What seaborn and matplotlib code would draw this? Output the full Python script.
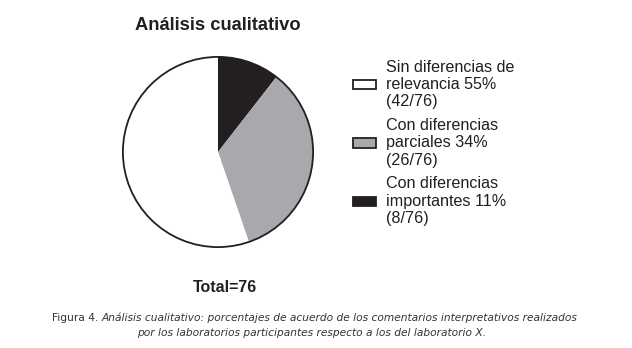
import matplotlib
matplotlib.use("Agg")
import matplotlib.pyplot as plt
from matplotlib.patches import Patch, Circle
import seaborn as sns

sns.set_theme(style="white")
plt.rcParams['font.family'] = ['Liberation Sans', 'DejaVu Sans']

# data
categories = ['Con diferencias\nimportantes 11%\n(8/76)',
              'Con diferencias\nparciales 34%\n(26/76)',
              'Sin diferencias de\nrelevancia 55%\n(42/76)']
counts = [8, 26, 42]
colors = ['#231f20', '#a7a9ac', '#ffffff']
legend_order = [2, 1, 0]
total = sum(counts)

fig = plt.figure(figsize=(6.32, 3.48), dpi=100)
W, H = 632, 348
cx, cy, r = 218, 152, 97
ax = fig.add_axes([(cx - r) / W, 1 - (cy + r) / H, 2 * r / W, 2 * r / H])

wedges, _ = ax.pie(counts, colors=colors, startangle=90, counterclock=False,
                   wedgeprops=dict(linewidth=0))
ax.add_patch(Circle((0, 0), 1, fill=False, edgecolor='#231f20', linewidth=1.3))
ax.set_xlim(-1.02, 1.02)
ax.set_ylim(-1.02, 1.02)
ax.set_aspect('equal')
ax.axis('off')

fig.text(218 / W, 1 - 30 / H, 'Análisis cualitativo', ha='center', va='baseline',
         fontsize=13.2, fontweight='bold', color='#231f20')
fig.text(225 / W, 1 - 292 / H, f'Total={total}', ha='center', va='baseline',
         fontsize=11.5, fontweight='bold', color='#231f20')

handles = [Patch(facecolor=colors[i], edgecolor='#231f20', linewidth=1.3)
           for i in legend_order]
labels = [categories[i] for i in legend_order]
leg = fig.legend(handles, labels, loc='upper left', bbox_to_anchor=(345 / W, 1 - 51.5 / H),
                 frameon=False, fontsize=11.6, handlelength=1.43, handleheight=0.5,
                 handletextpad=0.62, labelspacing=0.53, borderpad=0,
                 labelcolor='#231f20')
for t in leg.get_texts():
    t.set_linespacing(1.2)

# caption
cap_fam = ['Liberation Sans Narrow', 'DejaVu Sans Condensed', 'DejaVu Sans']
cap_color = '#333333'
cap_size = 7.65
t1 = fig.text(0, 1 - 321 / H, 'Figura 4. ', fontsize=cap_size, family=cap_fam,
              color=cap_color, va='baseline')
t2 = fig.text(0, 1 - 321 / H, 'Análisis cualitativo: porcentajes de acuerdo de los '
              'comentarios interpretativos realizados', fontsize=cap_size, family=cap_fam,
              style='italic', color=cap_color, va='baseline')
fig.text(312 / W, 1 - 336 / H, 'por los laboratorios participantes respecto a los del '
         'laboratorio X.', fontsize=cap_size, family=cap_fam, style='italic',
         color=cap_color, va='baseline', ha='center')

fig.canvas.draw()
rend = fig.canvas.get_renderer()
w1 = t1.get_window_extent(rend).width
w2 = t2.get_window_extent(rend).width
x0 = 315 - (w1 + w2) / 2
t1.set_x(x0 / W)
t2.set_x((x0 + w1) / W)

fig.savefig('out.png', dpi=100)
